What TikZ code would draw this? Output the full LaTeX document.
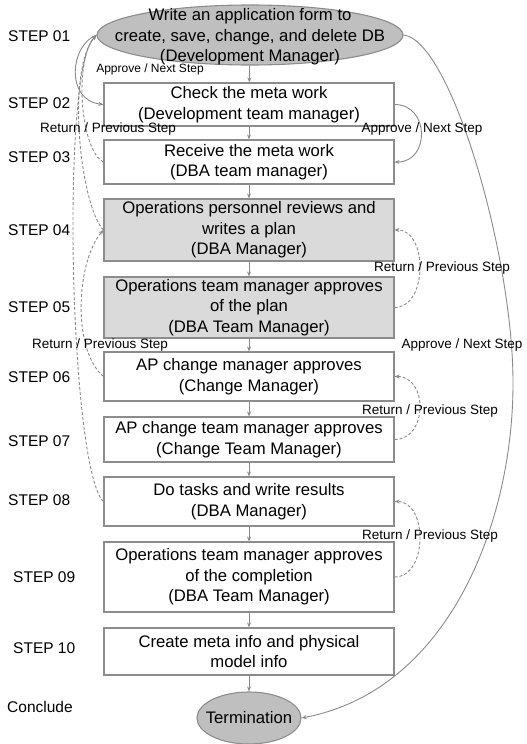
\documentclass[tikz,border=0pt]{standalone}
\usepackage{fontspec}
\setmainfont{Liberation Sans}
\usetikzlibrary{arrows.meta,shapes.geometric}

\definecolor{boxline}{HTML}{8C8C8C}
\definecolor{linkgray}{HTML}{8A8A8A}
\definecolor{darkfill}{HTML}{BFBFBF}
\definecolor{lightfill}{HTML}{DADADA}

\newcommand\boxfont{\fontsize{16.7}{20.5}\selectfont}
\newcommand\stepfont{\fontsize{15.5}{18}\selectfont}
\newcommand\notefont{\fontsize{13.5}{16}\selectfont}

\begin{document}
\begin{tikzpicture}[x=1pt,y=-1pt,
  stepbox/.style={draw=boxline, line width=1.1pt, fill=white, minimum width=290pt,
    inner sep=0pt, align=center, font=\boxfont},
  graybox/.style={stepbox, fill=lightfill},
  oval/.style={ellipse, draw=boxline, line width=1.1pt, fill=darkfill, inner sep=0pt},
  boxtext/.style={align=center, font=\boxfont, inner sep=0pt},
  steplabel/.style={anchor=west, font=\stepfont, inner sep=0pt},
  note/.style={font=\notefont, inner sep=0pt},
  flow/.style={draw=linkgray, line width=0.9pt, -{Stealth[length=5pt,width=4pt]}},
  back/.style={flow, dash pattern=on 3pt off 2pt},
]
\useasboundingbox (0,0) rectangle (527,744);

% process nodes
\node[oval, minimum width=306pt, minimum height=60pt] (e1) at (250,35) {};
\node[boxtext] (e1text) at (250,37) {Write an application form to\\create, save, change, and delete DB\\(Development Manager)};
\node[stepbox, minimum height=43pt] (b2) at (249,104.5) {Check the meta work\\(Development team manager)};
\node[stepbox, minimum height=44pt] (b3) at (249,162) {Receive the meta work\\(DBA team manager)};
\node[graybox, minimum height=62pt] (b4) at (249,230) {Operations personnel reviews and\\writes a plan\\(DBA Manager)};
\node[graybox, minimum height=61pt] (b5) at (249,307.5) {Operations team manager approves\\of the plan\\(DBA Team Manager)};
\node[stepbox, minimum height=49pt] (b6) at (249,376.5) {AP change manager approves\\(Change Manager)};
\node[stepbox, minimum height=45pt] (b7) at (249,439.5) {AP change team manager approves\\(Change Team Manager)};
\node[stepbox, minimum height=49pt] (b8) at (249,501.5) {Do tasks and write results\\(DBA Manager)};
\node[stepbox, minimum height=70pt] (b9) at (249,577) {Operations team manager approves\\of the completion\\(DBA Team Manager)};
\node[stepbox, minimum height=47pt] (b10) at (249,651.5) {Create meta info and physical\\model info};
\node[oval, minimum width=104pt, minimum height=52pt] (term) at (249,718) {};
\node[boxtext] (termtext) at (249,718) {Termination};

% step labels
\node[steplabel] (s01) at (8,36) {STEP 01};
\node[steplabel] (s02) at (8,103) {STEP 02};
\node[steplabel] (s03) at (8,157) {STEP 03};
\node[steplabel] (s04) at (8,230) {STEP 04};
\node[steplabel] (s05) at (8,307) {STEP 05};
\node[steplabel] (s06) at (8,377) {STEP 06};
\node[steplabel] (s07) at (8,441) {STEP 07};
\node[steplabel] (s08) at (8,500) {STEP 08};
\node[steplabel] (s09) at (13,577) {STEP 09};
\node[steplabel] (s10) at (13,648) {STEP 10};
\node[steplabel] (s11) at (7,707) {Conclude};

% main flow
\draw[flow] (e1) -- (b2);
\draw[flow] (b2) -- (b3);
\draw[flow] (b3) -- (b4);
\draw[flow] (b4) -- (b5);
\draw[flow] (b5) -- (b6);
\draw[flow] (b6) -- (b7);
\draw[flow] (b7) -- (b8);
\draw[flow] (b8) -- (b9);
\draw[flow] (b9) -- (b10);
\draw[flow] (b10) -- (term);

% approvals
\draw[flow] (e1.west) .. controls (70,45) and (65,100) .. (b2.west);
\draw[flow] (b2.east) .. controls (430,104.5) and (430,162) .. (b3.east);
\draw[flow] (e1.east) .. controls (450,40) and (512,250) .. (513,380)
  .. controls (514,520) and (450,690) .. (term.east);

% returns
\draw[back] (b3.west) .. controls (80,150) and (74,60) .. (e1.west);
\draw[back] (b4.west) .. controls (80,205) and (66,70) .. (e1.west);
\draw[back] (b8.west) .. controls (70,470) and (60,70) .. (e1.west);
\draw[back] (b6.west) .. controls (72,350) and (76,262) .. (b4.west);
\draw[back] (b5.east) .. controls (428,307.5) and (428,230) .. (b4.east);
\draw[back] (b7.east) .. controls (428,439.5) and (428,376.5) .. (b6.east);
\draw[back] (b9.east) .. controls (428,577) and (428,501.5) .. (b8.east);

% connector notes
\node[note, font=\fontsize{12}{14}\selectfont] (n1) at (150,69) {Approve / Next Step};
\node[note] (n2) at (108,129) {Return / Previous Step};
\node[note] (n3) at (422,129) {Approve / Next Step};
\node[note] (n4) at (442,268) {Return / Previous Step};
\node[note] (n5) at (100,345) {Return / Previous Step};
\node[note] (n6) at (462,345) {Approve / Next Step};
\node[note] (n7) at (430,411) {Return / Previous Step};
\node[note] (n8) at (430,536) {Return / Previous Step};
\end{tikzpicture}
\end{document}
